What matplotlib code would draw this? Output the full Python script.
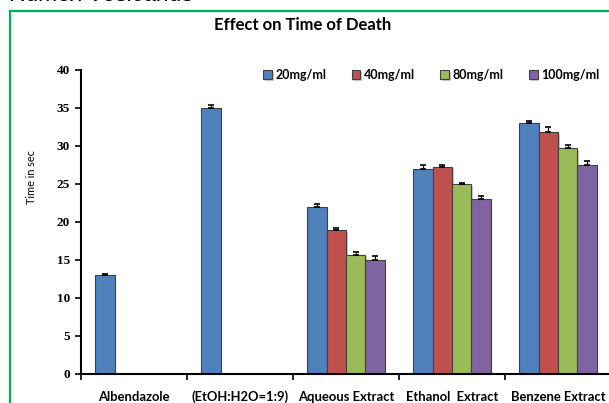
import numpy as np
import matplotlib.pyplot as plt
import matplotlib.patheffects as pe

categories = ['Albendazole', '(EtOH:H2O=1:9)', 'Aqueous Extract', 'Ethanol  Extract', 'Benzene Extract']
series = ['20mg/ml', '40mg/ml', '80mg/ml', '100mg/ml']
colors = ['#4F81BD', '#C0504D', '#9BBB59', '#8064A2']

# nan = no bar in that group
values = [
    [13.0, 35.0, 22.0, 27.0, 33.0],
    [np.nan, np.nan, 18.9, 27.3, 31.8],
    [np.nan, np.nan, 15.7, 25.0, 29.7],
    [np.nan, np.nan, 15.0, 23.0, 27.5],
]
errors = [
    [0.15, 0.45, 0.4, 0.45, 0.35],
    [0, 0, 0.3, 0.15, 0.65],
    [0, 0, 0.35, 0.12, 0.4],
    [0, 0, 0.55, 0.45, 0.55],
]
yticks = [0, 5, 10, 15, 20, 25, 30, 35, 40]

W, H = 609, 403
fig = plt.figure(figsize=(6.09, 4.03), dpi=100)
ax = fig.add_axes([81/W, 29/H, 530/W, 304/H])

width = 0.182
x = np.arange(len(categories))
shadow = [pe.SimplePatchShadow(offset=(1.2, -1.2), shadow_rgbFace='#999999', alpha=0.5), pe.Normal()]
for j, (name, col) in enumerate(zip(series, colors)):
    pos = x + 0.5 + (j - 1.5) * width
    v = np.array(values[j])
    err = np.array(errors[j])
    bars = ax.bar(pos, v, width, color=col, edgecolor='#404040', linewidth=0.8, label=name, zorder=2)
    for b in bars:
        b.set_path_effects(shadow)
    ok = ~np.isnan(v)
    ax.errorbar(pos[ok], v[ok], yerr=[np.zeros(ok.sum()), err[ok]], fmt='none',
                ecolor='black', elinewidth=0.9, capsize=2.5, capthick=1.2, zorder=3)

ax.set_xlim(0, 5)
ax.set_ylim(0, 40)
ax.set_yticks(yticks)
ax.set_yticklabels([str(t) for t in yticks], family='Liberation Serif', fontweight='bold', fontsize=9.5)
ax.set_xticks(np.arange(6))
ax.set_xticklabels([])
ax.set_xticks(x + 0.5, minor=True)
ax.set_xticklabels(categories, minor=True, family='Lato', fontweight='bold', fontsize=9.4)
ax.tick_params(axis='x', which='minor', length=0, pad=12)
ax.tick_params(axis='x', which='major', length=4, width=1.2, direction='out')
ax.tick_params(axis='y', length=4, width=1.2, direction='out', pad=4)
for s in ['top', 'right']:
    ax.spines[s].set_visible(False)
for s in ['left', 'bottom']:
    ax.spines[s].set_linewidth(1.5)

ax.set_ylabel('Time in sec', family='Lato', fontsize=7.8)
ax.yaxis.set_label_coords(-0.083, (374 - 177) / 304)

leg = ax.legend(loc='center right', bbox_to_anchor=(0.995, 1 - (75 - 70) / 304), ncol=4, frameon=False,
                prop={'family': 'Lato', 'weight': 'bold', 'size': 9},
                handlelength=0.7, handleheight=0.7, handletextpad=0.3, columnspacing=2.0,
                borderpad=0.2)

fig.text(303/W, 1 - 25/H, 'Effect on Time of Death', ha='center', va='center',
         family='Lato', fontweight='bold', fontsize=12)
fig.text(10/W, 1 - 1/H, 'Rumex Vesicarius', ha='left', va='baseline',
         family='Liberation Sans', style='italic', fontsize=16.5)

# green frame
fig.add_artist(plt.Line2D([10/W, 10/W], [0, 1 - 11/H], color='#00B050', linewidth=1.6))
fig.add_artist(plt.Line2D([10/W, 1], [1 - 11/H, 1 - 11/H], color='#00B050', linewidth=1.6))

fig.savefig('out.png', dpi=100)
